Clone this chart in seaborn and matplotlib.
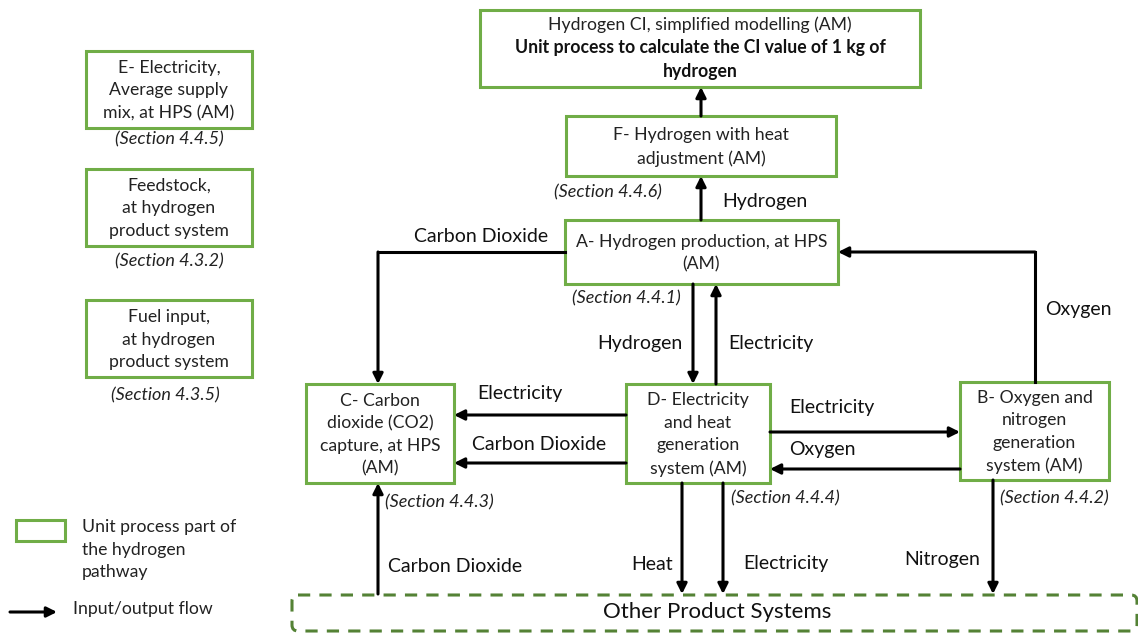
import numpy as np
import pandas as pd
import matplotlib.pyplot as plt
import seaborn as sns
from matplotlib.patches import Rectangle, FancyBboxPatch

sns.set_theme(style="white")
plt.rcParams['font.family'] = ['Lato', 'DejaVu Sans']

# unit processes (text)
boxNames = ['H', 'F', 'A', 'C', 'D', 'B', 'E', 'Feed', 'Fuel']
boxText = ['', 'F- Hydrogen with heat\nadjustment (AM)', 'A- Hydrogen production, at HPS\n(AM)',
           'C- Carbon\ndioxide (CO2)\ncapture, at HPS\n(AM)', 'D- Electricity\nand heat\ngeneration\nsystem (AM)',
           'B- Oxygen and\nnitrogen\ngeneration\nsystem (AM)', 'E- Electricity,\nAverage supply\nmix, at HPS (AM)',
           'Feedstock,\nat hydrogen\nproduct system', 'Fuel input,\nat hydrogen\nproduct system']
boxSection = ['', '4.4.6', '4.4.1', '4.4.3', '4.4.4', '4.4.2', '4.4.5', '4.3.2', '4.3.5']

# flows: source, target, label
flowFrom = ['F', 'A', 'A', 'B', 'A', 'D', 'D', 'D', 'D', 'B', 'D', 'D', 'B', 'Other']
flowTo = ['H', 'F', 'C', 'A', 'D', 'A', 'C', 'C', 'B', 'D', 'Other', 'Other', 'Other', 'C']
flowLabel = ['', 'Hydrogen', 'Carbon Dioxide', 'Oxygen', 'Hydrogen', 'Electricity', 'Electricity',
             'Carbon Dioxide', 'Electricity', 'Oxygen', 'Heat', 'Electricity', 'Nitrogen', 'Carbon Dioxide']

# layout (pixel space)
boxPos = {'H': (480, 10, 440, 77), 'F': (566, 116, 270, 60), 'A': (565, 220, 273, 64),
          'C': (306, 384, 148, 99), 'D': (626, 384, 144, 99), 'B': (960, 382, 149, 98),
          'E': (86, 51, 166, 77), 'Feed': (86, 169, 166, 77), 'Fuel': (86, 300, 166, 77)}
sectionPos = {'F': (554, 192, 'left'), 'A': (572, 298, 'left'), 'C': (385, 502, 'left'),
              'D': (731, 498, 'left'), 'B': (1000, 498, 'left'), 'E': (169, 139, 'center'),
              'Feed': (169, 261, 'center'), 'Fuel': (165, 395, 'center')}
flowPath = [[(701, 116), (701, 87)], [(701, 220), (701, 176)],
            [(565, 252), (378, 252), (378, 384)], [(1035, 382), (1035, 252), (838, 252)],
            [(693, 284), (693, 384)], [(716, 384), (716, 284)],
            [(626, 415), (454, 415)], [(626, 463), (454, 463)],
            [(770, 432), (960, 432)], [(960, 469), (770, 469)],
            [(682, 483), (682, 594)], [(723, 483), (723, 594)], [(993, 480), (993, 594)],
            [(378, 594), (378, 483)]]
labelPos = [None, (722, 202, 'left'), (414, 237, 'left'), (1045, 309, 'left'), (683, 343, 'right'),
            (728, 343, 'left'), (477, 393, 'left'), (472, 445, 'left'), (789, 407, 'left'),
            (789, 450, 'left'), (673, 564, 'right'), (743, 564, 'left'), (980, 560, 'right'),
            (388, 567, 'left')]

green = '#70AD47'
boxFont = 12.7
fig = plt.figure(figsize=(11.38, 6.33), dpi=100)
ax = fig.add_axes([0, 0, 1, 1])
ax.set_xlim(0, 1138)
ax.set_ylim(633, 0)
ax.axis('off')

for name, txt in zip(boxNames, boxText):
    x, y, w, h = boxPos[name]
    ax.add_patch(Rectangle((x, y), w, h, fill=False, edgecolor=green, lw=2.2))
    ax.text(x + w / 2, y + h / 2 + 1, txt, ha='center', va='center', fontsize=boxFont,
            linespacing=1.5, color='#222222')

# top box mixed weights
x, y, w, h = boxPos['H']
ax.text(x + w / 2, 25, 'Hydrogen CI, simplified modelling (AM)', ha='center', va='center',
        fontsize=boxFont, color='#222222')
ax.text(x + w / 2, 48, 'Unit process to calculate the CI value of 1 kg of', ha='center',
        va='center', fontsize=boxFont, fontweight='bold', color='#111111')
ax.text(x + w / 2, 71, 'hydrogen', ha='center', va='center', fontsize=boxFont,
        fontweight='bold', color='#111111')

for name, sec in zip(boxNames, boxSection):
    if sec:
        sx, sy, ha = sectionPos[name]
        ax.text(sx, sy, '(Section ' + sec + ')', ha=ha, va='center', fontsize=13,
                style='italic', color='#222222')

# other product systems (dashed)
ax.add_patch(FancyBboxPatch((292, 595), 845, 36, boxstyle='round,pad=0,rounding_size=6',
                            fill=False, edgecolor='#548235', lw=2.2, linestyle=(0, (4, 3))))
ax.text(717, 612, 'Other Product Systems', ha='center', va='center', fontsize=16, color='#111111')

for path, lab, lp in zip(flowPath, flowLabel, labelPos):
    pts = np.array(path)
    if len(pts) > 2:
        ax.plot(pts[:-1, 0], pts[:-1, 1], color='black', lw=2.2, solid_capstyle='projecting')
    ax.annotate('', xy=tuple(pts[-1]), xytext=tuple(pts[-2]),
                arrowprops=dict(arrowstyle='-|>,head_length=0.5,head_width=0.25',
                                color='black', lw=2.2, shrinkA=0, shrinkB=0))
    if lab:
        ax.text(lp[0], lp[1], lab, ha=lp[2], va='center', fontsize=14, color='#111111')

# legend
ax.add_patch(Rectangle((16, 520), 49, 21, fill=False, edgecolor=green, lw=2.2))
ax.text(82, 519, 'Unit process part of\nthe hydrogen\npathway', ha='left', va='top',
        fontsize=boxFont, linespacing=1.5, color='#222222')
ax.annotate('', xy=(57, 612), xytext=(10, 612),
            arrowprops=dict(arrowstyle='-|>,head_length=0.5,head_width=0.25',
                            color='black', lw=2.2, shrinkA=0, shrinkB=0))
ax.text(73, 609, 'Input/output flow', ha='left', va='center', fontsize=boxFont, color='#222222')

fig.savefig('out.png', dpi=100)
